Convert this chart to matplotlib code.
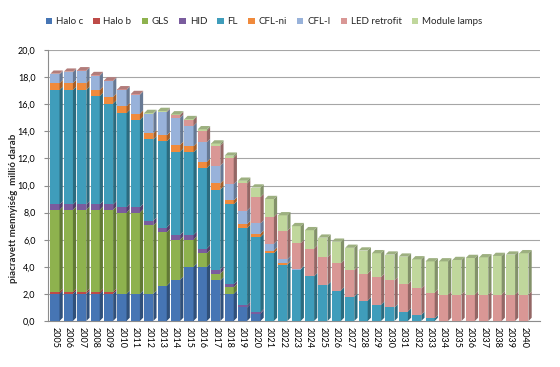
import matplotlib
matplotlib.use("Agg")
import matplotlib.pyplot as plt
import numpy as np
from matplotlib.colors import to_rgb
from matplotlib.patches import Patch

years = list(range(2005, 2041))

halo_c = [2.0, 2.0, 2.0, 2.0, 2.0, 2.0, 2.0, 2.0, 2.6, 3.05, 4.0, 4.0, 3.0, 2.0, 1.0, 0.55,
          0, 0, 0, 0, 0, 0, 0, 0, 0, 0, 0, 0, 0, 0, 0, 0, 0, 0, 0, 0]
halo_b = [0.15, 0.15, 0.15, 0.15, 0.15, 0, 0, 0, 0, 0, 0, 0, 0, 0, 0, 0,
          0, 0, 0, 0, 0, 0, 0, 0, 0, 0, 0, 0, 0, 0, 0, 0, 0, 0, 0, 0]
gls = [6.05, 6.05, 6.05, 6.05, 6.05, 6.0, 6.0, 5.05, 3.95, 2.95, 2.0, 1.0, 0.5, 0.5, 0, 0,
       0, 0, 0, 0, 0, 0, 0, 0, 0, 0, 0, 0, 0, 0, 0, 0, 0, 0, 0, 0]
hid = [0.4, 0.4, 0.4, 0.4, 0.4, 0.4, 0.4, 0.35, 0.35, 0.35, 0.35, 0.35, 0.3, 0.2, 0.15, 0.1,
       0, 0, 0, 0, 0, 0, 0, 0, 0, 0, 0, 0, 0, 0, 0, 0, 0, 0, 0, 0]
fl = [8.45, 8.45, 8.45, 8.0, 7.45, 6.95, 6.45, 6.0, 6.35, 6.15, 6.1, 5.95, 5.9, 5.9, 5.7, 5.55,
      5.0, 4.15, 3.8, 3.3, 2.65, 2.25, 1.8, 1.5, 1.2, 1.0, 0.7, 0.45, 0.2, 0, 0, 0, 0, 0, 0, 0]
cfl_ni = [0.5, 0.5, 0.5, 0.45, 0.5, 0.5, 0.45, 0.45, 0.45, 0.5, 0.45, 0.45, 0.45, 0.3, 0.3, 0.25,
          0.2, 0.1, 0, 0, 0, 0, 0, 0, 0, 0, 0, 0, 0, 0, 0, 0, 0, 0, 0, 0]
cfl_i = [0.65, 0.8, 0.9, 1.05, 1.15, 1.2, 1.4, 1.45, 1.7, 2.0, 1.5, 1.45, 1.3, 1.2, 1.0, 0.75,
         0.5, 0.3, 0.05, 0, 0, 0, 0, 0, 0, 0, 0, 0, 0, 0, 0, 0, 0, 0, 0, 0]
led = [0.05, 0.05, 0.05, 0.05, 0.05, 0.05, 0.05, 0, 0.05, 0.2, 0.45, 0.85, 1.5, 1.95, 2.0, 1.95,
       2.0, 2.1, 1.9, 2.05, 2.05, 2.0, 1.95, 2.0, 2.05, 2.0, 2.0, 1.95, 1.9,
       1.95, 1.95, 1.95, 1.95, 1.95, 1.95, 1.95]
module = [0, 0, 0, 0, 0, 0, 0, 0.05, 0.05, 0.05, 0.05, 0.1, 0.15, 0.15, 0.2, 0.7,
          1.3, 1.15, 1.25, 1.35, 1.45, 1.6, 1.65, 1.7, 1.75, 1.9, 2.05, 2.15, 2.3,
          2.45, 2.55, 2.7, 2.75, 2.85, 2.95, 3.05]

labels = ["Halo c", "Halo b", "GLS", "HID", "FL", "CFL-ni", "CFL-I", "LED retrofit", "Module lamps"]
colors = ["#4675B4", "#BE4B48", "#8EB24E", "#7A5C9E", "#3F9DBB", "#F08A3C", "#98B2DA", "#D99795", "#C0D79C"]
values = [halo_c, halo_b, gls, hid, fl, cfl_ni, cfl_i, led, module]

plt.rcParams.update({"font.family": ["Lato", "DejaVu Sans"], "text.color": "#262626"})


def shade(c, f):
    return tuple(v * f for v in to_rgb(c))


fig = plt.figure(figsize=(5.6, 3.67), dpi=100, facecolor="white")
ax = fig.add_axes([48 / 560, 46 / 367, 492 / 560, 271 / 367])

x = np.arange(len(years))
w = 0.68
dx, dy = 0.24, 0.24
bottom = np.zeros(len(years))
top_col = [None] * len(years)

for vals, col in zip(values, colors):
    vals = np.array(vals, dtype=float)
    ax.bar(x, vals, w, bottom=bottom, color=col, linewidth=0, zorder=3)
    side = shade(col, 0.68)
    for i in np.nonzero(vals)[0]:
        x1 = x[i] + w / 2
        y0, y1 = bottom[i], bottom[i] + vals[i]
        ax.fill([x1, x1 + dx, x1 + dx, x1], [y0, y0 + dy, y1 + dy, y1],
                color=side, lw=0, zorder=3)
        top_col[i] = col
    bottom += vals

for i in range(len(years)):
    t = bottom[i]
    x0 = x[i] - w / 2
    ax.fill([x0, x0 + dx, x0 + w + dx, x0 + w], [t, t + dy, t + dy, t],
            color=shade(top_col[i], 0.82), lw=0, zorder=3)

ax.set_xlim(-0.52, 36.2)
ax.set_ylim(0, 20)
ax.set_yticks(np.arange(0, 20.1, 2))
ax.set_yticklabels([f"{v:.1f}".replace(".", ",") for v in np.arange(0, 20.1, 2)], fontsize=6.5)
ax.set_xticks(x)
ax.set_xticklabels([str(y) for y in years], rotation=270, fontsize=6.5, va="top", ha="center")
ax.tick_params(axis="x", length=0, pad=4)
ax.tick_params(axis="y", length=3, color="#8c8c8c", pad=6)
ax.grid(axis="y", color="#a6a6a6", linewidth=0.8, zorder=0)
for s in ["top", "right"]:
    ax.spines[s].set_visible(False)
for s in ["left", "bottom"]:
    ax.spines[s].set_color("#8c8c8c")
    ax.spines[s].set_linewidth(0.8)

fig.text(0.024, 1 - 208 / 367, "piacravett mennyiség  millió darab", rotation=90,
         fontsize=7, fontweight="bold", ha="center", va="center")

handles = [Patch(facecolor=c, edgecolor="none") for c in colors]
fig.legend(handles, labels, loc="center", bbox_to_anchor=(264 / 560, 1 - 22 / 367), ncol=9,
           frameon=False, fontsize=7, handlelength=0.65, handleheight=0.65,
           handletextpad=0.4, columnspacing=1.05)

fig.savefig("out.png", dpi=100)
plt.close(fig)
